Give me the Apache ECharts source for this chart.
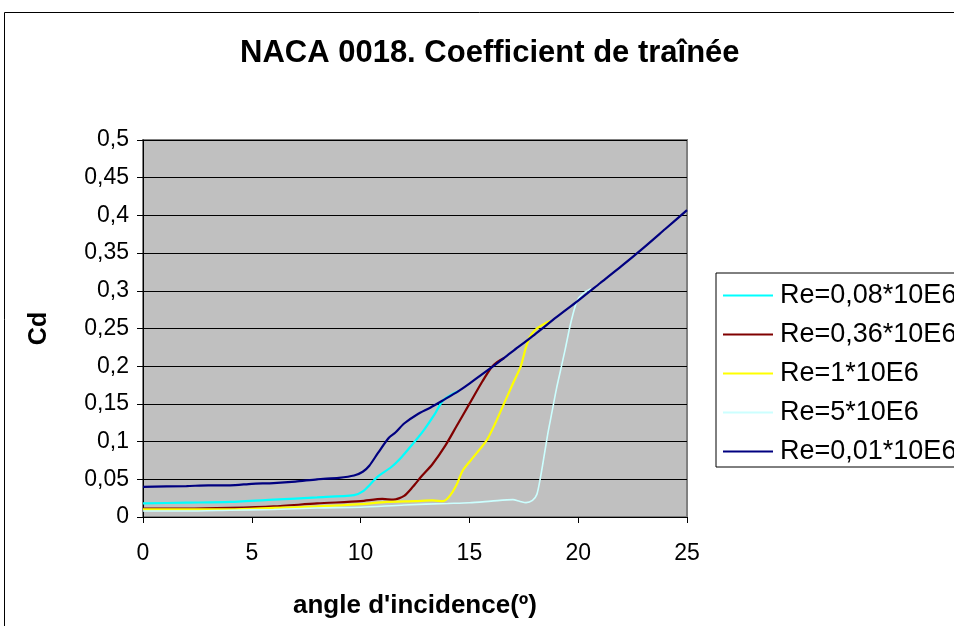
<!DOCTYPE html>
<html>
<head>
<meta charset="utf-8">
<title>NACA 0018. Coefficient de traînée</title>
<script src="https://cdn.jsdelivr.net/npm/echarts@6/dist/echarts.min.js"></script>
<style>
  html, body { margin: 0; padding: 0; background: #fff; }
  #chart { width: 954px; height: 626px; }
</style>
</head>
<body>
<div id="chart"></div>
<script>
// angle d'incidence (deg) and Cd
const seriesNames = ['Re=0,08*10E6', 'Re=0,36*10E6', 'Re=1*10E6', 'Re=5*10E6', 'Re=0,01*10E6']
const seriesColors = ['#00ffff', '#800000', '#ffff00', '#ccffff', '#000080']

const aoa008 = [0, 2, 4, 6, 8, 9.7, 10.1, 10.5, 10.8, 11.4, 11.9, 12.4, 12.9, 13.4, 13.8, 14.5]
const cd008 = [0.018, 0.019, 0.020, 0.023, 0.026, 0.029, 0.034, 0.045, 0.054, 0.066, 0.080, 0.097, 0.115, 0.136, 0.155, 0.167]

const aoa036 = [0, 2, 4, 6, 8, 10, 11, 11.5, 12, 12.4, 12.8, 13.3, 13.9, 14.4, 15, 15.6, 16, 16.3, 16.6]
const cd036 = [0.011, 0.011, 0.012, 0.014, 0.018, 0.021, 0.024, 0.023, 0.028, 0.040, 0.054, 0.070, 0.095, 0.120, 0.150, 0.180, 0.198, 0.206, 0.211]

const aoa1 = [0, 2, 4, 6, 8, 10, 11.2, 12.5, 13.3, 13.8, 14.1, 14.4, 14.7, 15.2, 15.8, 16.2, 16.6, 17, 17.35, 17.6, 17.8, 18.1, 18.5, 18.7]
const cd1 = [0.010, 0.010, 0.010, 0.012, 0.014, 0.017, 0.020, 0.021, 0.022, 0.021, 0.028, 0.042, 0.062, 0.080, 0.102, 0.125, 0.151, 0.177, 0.199, 0.225, 0.240, 0.250, 0.257, 0.260]

const aoa5 = [0, 2, 4, 6, 8, 10, 12, 14, 15, 16, 17, 17.3, 17.6, 17.9, 18.1, 18.25, 18.4, 18.6, 18.8, 19, 19.2, 19.4, 19.6, 19.75, 19.95, 20.2, 20.6]
const cd5 = [0.008, 0.008, 0.009, 0.010, 0.012, 0.013, 0.016, 0.018, 0.019, 0.021, 0.023, 0.021, 0.019, 0.022, 0.030, 0.050, 0.075, 0.110, 0.140, 0.170, 0.196, 0.222, 0.250, 0.268, 0.287, 0.296, 0.303]

const aoa001 = [0, 2, 3, 4, 5, 6, 7, 8, 9, 9.7, 10.1, 10.4, 10.8, 11.3, 11.6, 12, 12.6, 13.2, 13.8, 14.5, 15, 16, 17, 18, 19, 20, 21, 22, 23, 24, 25]
const cd001 = [0.040, 0.041, 0.042, 0.042, 0.044, 0.045, 0.047, 0.050, 0.052, 0.055, 0.060, 0.068, 0.085, 0.105, 0.112, 0.124, 0.136, 0.145, 0.155, 0.167, 0.177, 0.198, 0.220, 0.242, 0.265, 0.287, 0.310, 0.333, 0.357, 0.382, 0.407]

const xTicks = [0, 5, 10, 15, 20, 25]

const pairs = (xs, ys) => xs.map((x, i) => [x, ys[i]])
const allData = [pairs(aoa008, cd008), pairs(aoa036, cd036), pairs(aoa1, cd1), pairs(aoa5, cd5), pairs(aoa001, cd001)]

const fontFamily = '"Liberation Sans", Arial, sans-serif'
const chart = echarts.init(document.getElementById('chart'), null, { renderer: 'canvas' })

const option = {
  animation: false,
  backgroundColor: '#fff',
  textStyle: { fontFamily: fontFamily, color: '#000' },
  title: {
    text: 'NACA 0018. Coefficient de traînée',
    left: 235,
    top: 33,
    textStyle: { fontSize: 31, fontWeight: 'bold', color: '#000', fontFamily: fontFamily }
  },
  graphic: [
    {
      type: 'rect',
      silent: true,
      z: -1,
      shape: { x: 4.5, y: 12.5, width: 1000, height: 700 },
      style: { fill: 'none', stroke: '#000', lineWidth: 1 }
    }
  ],
  legend: {
    orient: 'vertical',
    left: 716,
    top: 273,
    data: seriesNames,
    icon: 'rect',
    itemWidth: 50,
    itemHeight: 2,
    itemGap: 12,
    padding: [9, 60, 2, 7],
    backgroundColor: '#fff',
    borderColor: '#000',
    borderWidth: 1,
    borderRadius: 0,
    textStyle: { fontSize: 27, color: '#000', lineHeight: 27, padding: [0, 0, 0, 2], fontFamily: fontFamily }
  },
  grid: {
    left: 143,
    top: 140,
    right: 267,
    bottom: 109,
    outerBoundsMode: 'none',
    show: true,
    backgroundColor: '#c0c0c0',
    borderColor: '#808080',
    borderWidth: 2
  },
  xAxis: {
    type: 'value',
    min: 0,
    max: 25,
    interval: 5,
    name: "angle d'incidence(º)",
    nameLocation: 'middle',
    nameGap: 76,
    nameTextStyle: { fontSize: 26, fontWeight: 'bold', color: '#000', fontFamily: fontFamily },
    axisLine: { show: true, onZero: false, lineStyle: { color: '#000', width: 1 } },
    axisTick: { show: true, inside: false, length: 6, lineStyle: { color: '#000' } },
    axisLabel: {
      fontSize: 23,
      color: '#000',
      margin: 25,
      formatter: (v) => (xTicks.includes(v) ? String(v) : '')
    },
    splitLine: { show: false }
  },
  yAxis: {
    type: 'value',
    min: 0,
    max: 0.5,
    interval: 0.05,
    name: 'Cd',
    nameLocation: 'middle',
    nameRotate: 90,
    nameGap: 91,
    nameTextStyle: { fontSize: 25, fontWeight: 'bold', color: '#000', fontFamily: fontFamily },
    axisLine: { show: true, lineStyle: { color: '#000', width: 1 } },
    axisTick: { show: true, inside: false, length: 6, lineStyle: { color: '#000' } },
    axisLabel: {
      fontSize: 23,
      color: '#000',
      margin: 14,
      formatter: (v) => String(Math.round(v * 100) / 100).replace('.', ',')
    },
    splitLine: { show: true, lineStyle: { color: '#000', width: 1 } }
  },
  series: seriesNames.map((name, i) => ({
    name: name,
    type: 'line',
    data: allData[i],
    smooth: 0.25,
    showSymbol: false,
    symbol: 'none',
    color: seriesColors[i],
    lineStyle: { color: seriesColors[i], width: i === 3 ? 1.6 : 2.2 },
    emphasis: { disabled: true }
  }))
}

chart.setOption(option)
</script>
</body>
</html>
